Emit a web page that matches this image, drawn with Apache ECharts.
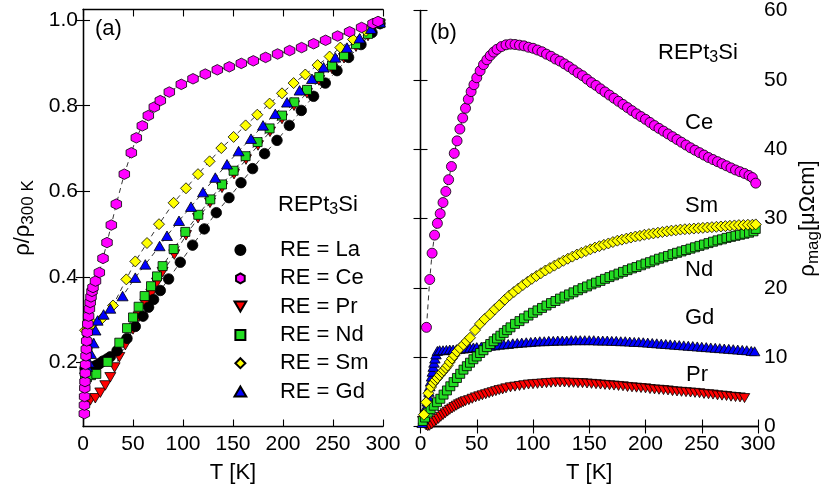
<!DOCTYPE html>
<html><head><meta charset="utf-8">
<script src="https://cdn.jsdelivr.net/npm/echarts@6/dist/echarts.min.js"></script>
<style>html,body{margin:0;padding:0;background:#fff}#c{width:823px;height:490px}</style>
</head><body><div id="c"></div>
<script>
// ---------- Panel (a): rho / rho(300 K) ----------
const T_La_a = [2,4,6,8,10,12,14,17,20,24,27.3,34,44,52.3,60,65.6,70.6,77.3,85.6,97.3,109.6,121.3,133.3,146,158,169.6,181.6,194,206.3,218.3,230.6,242.3,254,265.6,278,289,297];
const R_La_a = [0.186,0.186,0.187,0.188,0.189,0.191,0.194,0.198,0.203,0.208,0.213,0.227,0.256,0.284,0.308,0.329,0.347,0.368,0.395,0.434,0.474,0.512,0.550,0.585,0.620,0.653,0.688,0.719,0.754,0.789,0.822,0.853,0.882,0.913,0.943,0.971,0.992];

const T_Ce_a = [1.3,1.45,1.6,1.8,2.0,2.3,2.6,3.0,3.3,3.7,4.2,4.8,5.6,6.4,7.2,8.0,9.0,10,12.5,16.3,20,24,28.3,33.3,41.3,48.3,53.3,59.3,65.3,71.3,77.3,86.3,98.3,110,122.3,134.3,146.3,158.3,170.3,182.6,194.6,206.6,218.6,230.6,242.6,254.6,266.6,278.6,290,295];
const R_Ce_a = [0.08,0.10,0.12,0.14,0.155,0.175,0.195,0.215,0.231,0.25,0.27,0.29,0.308,0.325,0.34,0.353,0.366,0.375,0.39,0.41,0.443,0.48,0.521,0.570,0.640,0.690,0.725,0.753,0.777,0.797,0.812,0.832,0.850,0.863,0.874,0.884,0.891,0.899,0.905,0.913,0.921,0.929,0.936,0.945,0.953,0.963,0.973,0.983,0.992,0.997];

const T_Pr_a = [2,4,7.3,12.3,17.3,22.3,27.3,31.6,36.3,42.3,50,55.6,62.3,68.3,74,79.6,91.3,103,115,127,139,151,163,175,187,199,211,224,236,249,261,273,285,297];
const R_Pr_a = [0.11,0.108,0.111,0.116,0.129,0.146,0.165,0.188,0.212,0.240,0.277,0.307,0.336,0.360,0.386,0.411,0.452,0.497,0.537,0.573,0.608,0.640,0.674,0.707,0.739,0.769,0.800,0.829,0.859,0.886,0.911,0.938,0.963,0.990];

const T_Nd_a = [2,4,8,13.3,24.6,36.3,44,50,55.6,61.6,68,74,79.6,90.6,102.3,115.3,127.3,139,150.6,162.6,174.6,186.6,199,211.3,224,236.3,249,261,273,285,297];
const R_Nd_a = [0.163,0.165,0.17,0.173,0.201,0.246,0.280,0.305,0.330,0.355,0.378,0.401,0.425,0.465,0.505,0.545,0.581,0.616,0.648,0.682,0.715,0.747,0.777,0.808,0.837,0.867,0.894,0.918,0.944,0.968,0.993];

const T_Sm_a = [2,5,10,18.3,30,43.3,52.3,64,76,90.6,103,115,126.6,138.3,150.6,162.6,174.3,186.6,199,210.6,222.3,234.6,246.6,257.3,270,283,296];
const R_Sm_a = [0.275,0.28,0.29,0.301,0.333,0.394,0.436,0.479,0.523,0.573,0.607,0.640,0.670,0.701,0.727,0.754,0.779,0.805,0.829,0.853,0.873,0.895,0.915,0.936,0.955,0.975,0.995];

const T_Gd_a = [2,4,6,8,10.6,12.5,14.6,20.6,27.3,39.6,52.3,62.3,76.6,84,96,108,120,132.3,144,155.6,168,180,192.3,204,216.6,229,240.6,252.3,264,276.6,288,297];
const R_Gd_a = [0.185,0.19,0.2,0.22,0.245,0.275,0.298,0.312,0.326,0.355,0.398,0.429,0.472,0.496,0.531,0.564,0.598,0.632,0.663,0.694,0.723,0.754,0.781,0.808,0.836,0.863,0.890,0.913,0.936,0.958,0.980,0.995];

// ---------- Panel (b): rho_mag [muOhm cm] ----------
const T_Ce_b = [5.3,8.2,10.3,12.5,15,17.5,20,22.5,25,27.5,30,32.5,35,37.5,40,42.5,45,47.5,50,53,56,59,62,65,68,72,76,80,84,88,92,96,100,104,108,112,116,120,124,128,132,136,140,144,148,152,156,160,164,168,172,176,180,184,188,192,196,200,204,208,212,216,220,224,228,232,236,240,244,248,252,256,260,264,268,272,276,280,284,288,292,295,298];
const M_Ce_b = [14.3,21.2,25.0,27.6,29.3,30.7,32.3,33.9,35.6,37.5,39.4,41.2,42.9,44.5,45.9,47.2,48.3,49.3,50.3,51.3,52.2,52.9,53.5,54.0,54.4,54.8,55.05,55.15,55.1,55.0,54.9,54.7,54.55,54.3,54.05,53.7,53.4,53.0,52.7,52.3,51.9,51.45,51.0,50.6,50.1,49.6,49.2,48.7,48.25,47.8,47.35,46.9,46.45,46.0,45.55,45.1,44.7,44.3,43.85,43.4,43.0,42.6,42.2,41.8,41.4,41.0,40.6,40.2,39.85,39.5,39.15,38.8,38.5,38.2,37.9,37.6,37.3,37.0,36.75,36.5,36.2,35.9,35.1];

const T_Sm_b = [3,5,7,9.4,11.5,13.2,15,17,19,20.6,22.5,24.1,26,28,30,32.4,35,38.2,41,44,48.5,52.9,57,61.8,66,70,75,79,83,87,91,95,99,103,107,111,115,119,123,127,131,135,139,143,147,151,155,159,163,167,171,175,179,183,187,191,195,199,203,207,211,215,219,223,227,231,235,239,243,247,251,255,259,263,267,271,275,279,283,287,291,295,298];
const M_Sm_b = [1.7,3.5,4.8,5.7,6.3,6.7,7.0,7.4,7.8,8.1,8.45,8.8,9.3,9.8,10.25,10.8,11.3,11.8,12.3,12.8,13.9,14.8,15.5,16.2,16.9,17.5,18.3,18.9,19.4,19.9,20.4,20.85,21.3,21.7,22.1,22.5,22.85,23.2,23.55,23.9,24.2,24.5,24.8,25.05,25.3,25.55,25.8,26.0,26.2,26.4,26.6,26.8,26.95,27.1,27.25,27.4,27.5,27.65,27.75,27.85,27.95,28.05,28.15,28.25,28.3,28.4,28.45,28.5,28.55,28.6,28.65,28.7,28.75,28.8,28.85,28.9,28.95,29.0,29.05,29.05,29.1,29.1,29.15];

const T_Nd_b = [2,4,6.5,9,11.8,14.7,17.6,20.5,23.5,26.5,29.4,32.4,35.3,38.2,41.2,44,47,50,53,56,59,62,65,68,71,74,77,80,84,88,92,96,100,104,108,112,116,120,124,128,132,136,140,144,148,152,156,160,164,168,172,176,180,184,188,192,196,200,204,208,212,216,220,224,228,232,236,240,244,248,252,256,260,264,268,272,276,280,284,288,292,296,298];
const M_Nd_b = [0.8,1.3,2.0,2.5,3.0,3.5,4.0,4.6,5.2,5.8,6.4,7.0,7.6,8.2,8.7,9.2,9.7,10.1,10.6,11.0,11.45,11.9,12.3,12.7,13.1,13.5,13.9,14.3,14.8,15.2,15.6,16.0,16.4,16.75,17.1,17.45,17.8,18.1,18.45,18.75,19.05,19.35,19.65,19.95,20.2,20.5,20.75,21.0,21.3,21.55,21.8,22.05,22.3,22.55,22.8,23.0,23.25,23.5,23.7,23.95,24.2,24.4,24.6,24.85,25.05,25.25,25.45,25.65,25.85,26.05,26.25,26.45,26.65,26.85,27.0,27.2,27.35,27.5,27.65,27.8,27.95,28.15,28.5];

const T_Gd_b = [1.5,2.5,3.5,4.4,5.2,6,6.8,7.5,8.3,9,9.8,10.5,11.3,12,12.8,13.8,15,17,20,23,26,29,32,35,38,41,44,47,50,54,58,62,66,70,74,78,82,86,90,94,98,102,106,110,114,118,122,126,130,134,138,142,146,150,154,158,162,166,170,174,178,182,186,190,194,198,202,206,210,214,218,222,226,230,234,238,242,246,250,254,258,262,266,270,274,278,282,286,290,294,297];
const M_Gd_b = [0.5,1.0,1.6,2.2,2.9,3.6,4.3,5.0,5.8,6.5,7.2,7.9,8.6,9.2,9.8,10.4,10.9,11.0,11.0,11.05,11.1,11.1,11.15,11.2,11.25,11.3,11.35,11.4,11.45,11.5,11.6,11.65,11.7,11.8,11.85,11.9,12.0,12.05,12.1,12.15,12.2,12.25,12.3,12.3,12.35,12.35,12.4,12.4,12.4,12.45,12.45,12.45,12.45,12.45,12.45,12.4,12.4,12.4,12.35,12.35,12.3,12.3,12.25,12.2,12.2,12.15,12.1,12.05,12.0,11.95,11.9,11.85,11.8,11.75,11.7,11.65,11.6,11.55,11.5,11.45,11.4,11.35,11.3,11.25,11.2,11.15,11.1,11.05,11.0,10.9,10.85];

const T_Pr_b = [2,3.5,5,6.5,8,10,12,14,16,18,20,22,24,26,28,30,32,34,36,38,40,43,46,49,52,55,58,61,64,67,70,73,76,80,84,88,92,96,100,104,108,112,116,120,124,128,132,136,140,144,148,152,156,160,164,168,172,176,180,184,188,192,196,200,204,208,212,216,220,224,228,232,236,240,244,248,252,256,260,264,268,272,276,280,284,288];
const M_Pr_b = [0.8,0.4,0.15,0.05,0.1,0.3,0.55,0.85,1.1,1.4,1.65,1.9,2.15,2.4,2.6,2.8,3.0,3.2,3.35,3.5,3.65,3.8,4.0,4.2,4.35,4.5,4.65,4.8,4.95,5.1,5.25,5.35,5.5,5.65,5.75,5.85,5.95,6.05,6.1,6.15,6.2,6.25,6.3,6.35,6.35,6.35,6.3,6.3,6.25,6.25,6.2,6.15,6.1,6.05,6.0,5.95,5.9,5.85,5.8,5.7,5.65,5.6,5.55,5.5,5.4,5.35,5.3,5.25,5.2,5.1,5.05,5.0,4.95,4.9,4.85,4.8,4.7,4.65,4.6,4.5,4.45,4.4,4.3,4.25,4.2,4.1];

// axis tick values
const X_TICKS = [0,50,100,150,200,250,300];
const Y_TICKS_A = [0.2,0.4,0.6,0.8,1.0];
const Y_TICKS_B = [0,10,20,30,40,50,60];
const LEGEND_NAMES = ['RE = La','RE = Ce','RE = Pr','RE = Nd','RE = Sm','RE = Gd'];

const FONT = '"Liberation Sans", Arial, Helvetica, sans-serif';
const SYM = {
  circle: 'path://M-1,0A1,1,0,1,0,1,0A1,1,0,1,0,-1,0Z',
  hex: 'path://M0,-1L0.866,-0.5L0.866,0.5L0,1L-0.866,0.5L-0.866,-0.5Z',
  down: 'path://M-1,-0.85L1,-0.85L0,0.85Z',
  up: 'path://M0,-0.85L1,0.85L-1,0.85Z',
  square: 'path://M-1,-1L1,-1L1,1L-1,1Z',
  diamond: 'path://M0,-1L1,0L0,1L-1,0Z'
};
const COL = {La:'#000000', Ce:'#ff00ff', Pr:'#ff0000', Nd:'#22dd22', Sm:'#ffff00', Gd:'#0000ff'};

function zip(t, v){ return t.map((x,i)=>[x, v[i]]); }
function ser(name, t, v, sym, size, color, xi, yi){
  return {
    name: name, type: 'line', xAxisIndex: xi, yAxisIndex: yi,
    data: zip(t, v), symbol: sym, symbolSize: size, showSymbol: true, showAllSymbol: true,
    itemStyle: {color: color, borderColor: '#000', borderWidth: 0.8},
    lineStyle: {color: '#000', width: 0.8, type: [5,4]},
    emphasis: {disabled: true}, animation: false, silent: true, clip: false
  };
}

const axisLineStyle = {show: true, lineStyle: {color: '#000', width: 1.3}};
const tickStyle = {show: true, inside: true, length: 7, lineStyle: {color: '#000', width: 1.1}};
const labelStyle = {color: '#000', fontSize: 21, fontFamily: FONT};

function xAx(grid, pos, labels){
  return {
    type: 'value', gridIndex: grid, position: pos, min: 0, max: 300, interval: 50,
    axisLine: axisLineStyle, axisTick: tickStyle, splitLine: {show: false},
    axisLabel: Object.assign({show: labels, margin: 7}, labelStyle),
    name: labels ? 'T [K]' : '', nameLocation: 'middle', nameGap: 35,
    nameTextStyle: {color: '#000', fontSize: 22, fontFamily: FONT}
  };
}

const rhoName = '{r|ρ/ρ}{s|300 K}';
const magName = '{r|ρ}{s|mag}{r|[μΩcm]}';
const richName = {
  r: {fontSize: 22, fontFamily: FONT, color: '#000'},
  s: {fontSize: 17, fontFamily: FONT, color: '#000', padding: [11,0,0,0]}
};

const option = {
  backgroundColor: '#fff',
  animation: false,
  grid: [
    {left: 83, right: 440, top: 9.5, bottom: 63.5},
    {left: 420.5, right: 62.5, top: 9.5, bottom: 63.5}
  ],
  xAxis: [xAx(0,'bottom',true), xAx(0,'top',false), xAx(1,'bottom',true), xAx(1,'top',false)],
  yAxis: [
    {type:'value', gridIndex:0, position:'left', min:0.05, max:1.025,
     axisLine: axisLineStyle, splitLine:{show:false},
     axisTick: Object.assign({customValues: Y_TICKS_A}, tickStyle),
     axisLabel: Object.assign({customValues: Y_TICKS_A, margin: 5, formatter: v => v.toFixed(1)}, labelStyle),
     name: rhoName, nameLocation:'middle', nameRotate: 90, nameGap: 46,
     nameTextStyle: {rich: richName}},
    {type:'value', gridIndex:0, position:'right', min:0.05, max:1.025,
     axisLine: axisLineStyle, splitLine:{show:false},
     axisTick: Object.assign({customValues: Y_TICKS_A}, tickStyle),
     axisLabel: {show:false}},
    {type:'value', gridIndex:1, position:'right', min:0, max:60, interval:10,
     axisLine: axisLineStyle, splitLine:{show:false}, axisTick: tickStyle,
     axisLabel: Object.assign({margin: 6}, labelStyle),
     name: magName, nameLocation:'middle', nameRotate: 90, nameGap: 36,
     nameTextStyle: {rich: richName}},
    {type:'value', gridIndex:1, position:'left', min:0, max:60, interval:10,
     axisLine: axisLineStyle, splitLine:{show:false}, axisTick: tickStyle,
     axisLabel: {show:false}}
  ],
  title: [
    {text:'(a)', left:95, top:18},
    {text:'(b)', left:430, top:22},
    {text:'{n|REPt}{s|3}{n|Si}', left:278, top:192},
    {text:'{n|REPt}{s|3}{n|Si}', left:658, top:40},
    {text:'Ce', left:685, top:112},
    {text:'Sm', left:685, top:195},
    {text:'Nd', left:685, top:259},
    {text:'Gd', left:685, top:307},
    {text:'Pr', left:686, top:364}
  ].map(t => Object.assign({padding:0, textStyle:{color:'#000', fontSize:22, fontWeight:'normal', fontFamily:FONT,
      rich:{n:{fontSize:22, fontFamily:FONT, color:'#000'}, s:{fontSize:16, fontFamily:FONT, color:'#000', padding:[10,0,0,0]}}}}, t)),
  legend: {
    orient:'vertical', left: 233.5, top: 239, padding: 0, itemGap: 6.3,
    itemWidth: 69, itemHeight: 10, selectedMode: false, symbolKeepAspect: true,
    textStyle: {color:'#000', fontSize:22, fontFamily:FONT},
    data: [
      {name: LEGEND_NAMES[0], icon: SYM.circle},
      {name: LEGEND_NAMES[1], icon: SYM.hex},
      {name: LEGEND_NAMES[2], icon: SYM.down},
      {name: LEGEND_NAMES[3], icon: SYM.square},
      {name: LEGEND_NAMES[4], icon: SYM.diamond},
      {name: LEGEND_NAMES[5], icon: SYM.up}
    ]
  },
  series: [
    ser(LEGEND_NAMES[2], T_Pr_a, R_Pr_a, SYM.down, [11,9.5], COL.Pr, 0, 0),
    ser(LEGEND_NAMES[0], T_La_a, R_La_a, SYM.circle, 10.5, COL.La, 0, 0),
    ser(LEGEND_NAMES[3], T_Nd_a, R_Nd_a, SYM.square, 9, COL.Nd, 0, 0),
    ser(LEGEND_NAMES[4], T_Sm_a, R_Sm_a, SYM.diamond, 11, COL.Sm, 0, 0),
    ser(LEGEND_NAMES[5], T_Gd_a, R_Gd_a, SYM.up, [11,9.5], COL.Gd, 0, 0),
    ser(LEGEND_NAMES[1], T_Ce_a, R_Ce_a, SYM.hex, 10.5, COL.Ce, 0, 0),
    ser('Pr (b)', T_Pr_b, M_Pr_b, SYM.down, [10.5,9], COL.Pr, 2, 2),
    ser('Gd (b)', T_Gd_b, M_Gd_b, SYM.up, [10.5,9], COL.Gd, 2, 2),
    ser('Nd (b)', T_Nd_b, M_Nd_b, SYM.square, 9, COL.Nd, 2, 2),
    ser('Sm (b)', T_Sm_b, M_Sm_b, SYM.diamond, 11, COL.Sm, 2, 2),
    ser('Ce (b)', T_Ce_b, M_Ce_b, SYM.circle, 10, COL.Ce, 2, 2)
  ]
};

const chart = echarts.init(document.getElementById('c'), null, {renderer: 'canvas'});
chart.setOption(option);
</script></body></html>
